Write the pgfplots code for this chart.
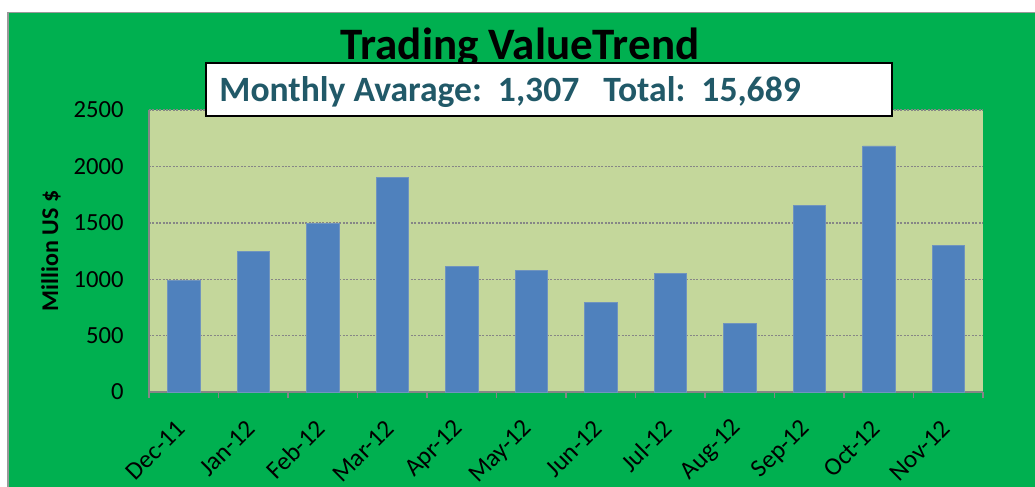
\documentclass[border=0pt]{standalone}
\usepackage{pgfplots}
\pgfplotsset{compat=1.18}
\usepackage{fontspec}
\setmainfont{Carlito}
\definecolor{bggreen}{HTML}{00B050}
\definecolor{plotbg}{HTML}{C4D79B}
\definecolor{barblue}{HTML}{4F81BD}
\definecolor{baredge}{HTML}{7094BE}
\definecolor{axisgray}{HTML}{868686}
\definecolor{boxtext}{HTML}{215968}
\begin{document}
\begin{tikzpicture}
\useasboundingbox (0,0) rectangle (517.5pt,-243.5pt);
\fill[white] (0,0) rectangle (517.5pt,-243.5pt);
\begin{scope}[x=0.5pt,y=-0.5pt]
  \fill[bggreen] (8,12.5) rectangle (1040,492);
  \draw[gray!80, line width=0.6pt] (8,492) -- (8,12.5) -- (1040,12.5);
\end{scope}
\begin{axis}[
    at={(74.5pt,-196pt)}, anchor=south west,
    scale only axis, width=417pt, height=141pt,
    ybar, bar width=0.465,
    xmin=-0.5, xmax=11.5, ymin=0, ymax=2500,
    xtick={-0.5,0.5,...,11.5},
    x tick label as interval,
    xticklabels={Dec-11,Jan-12,Feb-12,Mar-12,Apr-12,May-12,Jun-12,Jul-12,Aug-12,Sep-12,Oct-12,Nov-12},
    ytick={0,500,...,2500},
    scaled y ticks=false,
    /pgf/number format/1000 sep={},
    /pgf/number format/assume math mode=true,
    axis background/.style={fill=plotbg},
    axis x line*=bottom, axis y line*=left,
    axis line style={draw=axisgray, line width=1pt, -},
    tick align=outside, major tick length=3pt,
    xtick style={draw=axisgray, line width=0.8pt},
    ytick style={draw=none},
    ymajorgrids,
    grid style={axisgray, line width=0.7pt, dash pattern=on 1pt off 0.7pt},
    yticklabel style={font=\fontsize{12.3}{14}\selectfont, inner sep=0pt, anchor=east, xshift=-9.5pt},
    xticklabel style={font=\fontsize{12.6}{15}\selectfont, inner sep=0pt, xshift=-1.2pt, yshift=-13.2pt, rotate=45, anchor=east},
    ylabel={Million US \$},
    ylabel style={font=\bfseries\fontsize{12}{14}\selectfont, at={(axis description cs:-0.1175,0.5)}, anchor=center},
]
\addplot[fill=barblue, draw=baredge, line width=0.4pt] coordinates {
  (0,987) (1,1244) (2,1498) (3,1903) (4,1117) (5,1081)
  (6,795) (7,1049) (8,606) (9,1655) (10,2181) (11,1297)
};
\end{axis}
\begin{scope}[x=0.5pt,y=-0.5pt]
  \node[font=\bfseries\fontsize{22.5}{26}\selectfont, anchor=base, inner sep=0pt] at (520,60) {Trading ValueTrend};
  \draw[fill=white, line width=0.7pt] (206,63) rectangle (892,116);
  \node[anchor=base west, inner sep=0pt, text=boxtext, font=\bfseries\fontsize{17.8}{20}\selectfont] at (219,101.5) {Monthly Avarage:\ \ 1,307\ \ \ Total:\ \ 15,689};
\end{scope}
\end{tikzpicture}
\end{document}
